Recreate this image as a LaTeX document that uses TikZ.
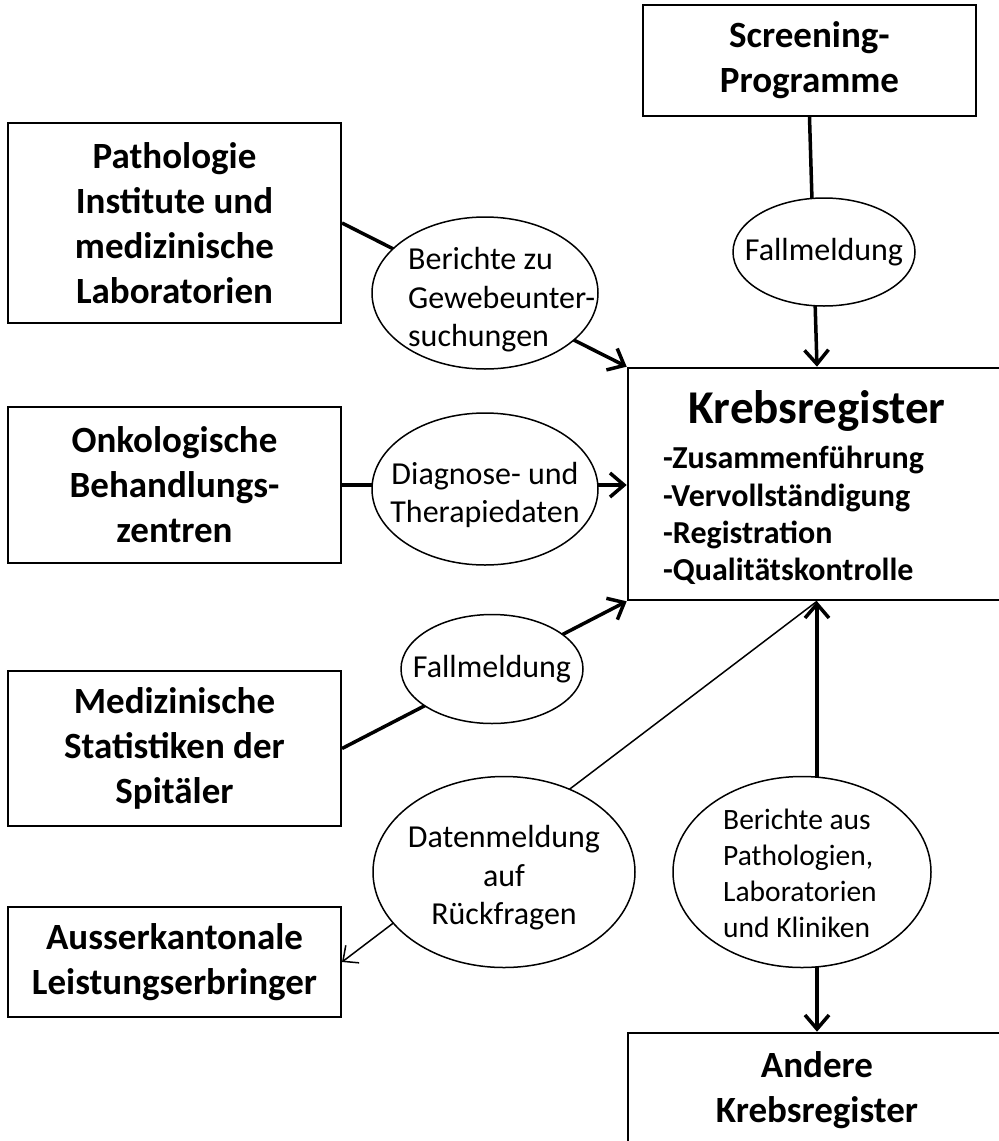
\documentclass[tikz,border=0pt]{standalone}
\usepackage{fontspec}
\setmainfont{Carlito}
\usetikzlibrary{arrows.meta,shapes.geometric}
\newcommand\boxfont{\bfseries\fontsize{37}{45}\selectfont}
\newcommand\titlefont{\bfseries\fontsize{47}{54}\selectfont}
\newcommand\itemfont{\bfseries\fontsize{32}{38}\selectfont}
\newcommand\ellfont{\fontsize{32}{38.5}\selectfont}
\newcommand\ellsmallfont{\fontsize{29.5}{36}\selectfont}
\begin{document}
\begin{tikzpicture}[x=1pt,y=-1pt,
  box/.style={draw, line width=2pt, inner sep=0pt, font=\boxfont, align=center},
  bigbox/.style={box, line width=2.6pt},
  ell/.style={draw, ellipse, fill=white, line width=1.5pt, inner sep=0pt},
  elltext/.style={inner sep=0pt, font=\ellfont, align=center},
  elltextleft/.style={inner sep=0pt, font=\ellfont, align=left, anchor=west},
  listitem/.style={inner sep=0pt, font=\itemfont, anchor=base west},
  flow/.style={line width=3.5pt, -{Straight Barb[length=14pt,width=24pt]}},
  biflow/.style={line width=3.5pt, {Straight Barb[length=14pt,width=24pt]}-{Straight Barb[length=14pt,width=24pt]}},
  thinflow/.style={line width=1.5pt, -{Straight Barb[length=12pt,width=22pt]}}]
\useasboundingbox (0,0) rectangle (999,1141);
\clip (0,0) rectangle (999,1141);
\fill[white] (0,0) rectangle (999,1141);

% sources and receivers
\node[box, minimum width=333pt, minimum height=111pt] (screen) at (809.5,60.5) {Screening-\\Programme};
\node[box, minimum width=333pt, minimum height=200pt] (patho) at (174.5,223) {Pathologie\\Institute und\\medizinische\\Laboratorien};
\node[box, minimum width=333pt, minimum height=156pt] (onko) at (174.5,485) {Onkologische\\Behandlungs-\\zentren};
\node[box, minimum width=333pt, minimum height=155pt] (medi) at (174.5,748.5) {Medizinische\\Statistiken der\\Spitäler};
\node[box, minimum width=333pt, minimum height=110pt] (ausser) at (174.5,962) {Ausserkantonale\\Leistungserbringer};

% the registry
\node[bigbox, minimum width=378pt, minimum height=232pt] (krebs) at (817,484) {};
\node[inner sep=0pt, font=\titlefont, anchor=base] (krebstitle) at (817,423) {Krebsregister};
\node[listitem] (k1) at (663,468) {-Zusammenführung};
\node[listitem] (k2) at (663,506) {-Vervollständigung};
\node[listitem] (k3) at (663,543) {-Registration};
\node[listitem] (k4) at (663,580) {-Qualitätskontrolle};

\node[bigbox, minimum width=378pt, minimum height=115pt] (andere) at (817,1090.5) {Andere\\Krebsregister};

% data flows
\draw[flow] (screen.south) -- (krebs.north);
\draw[flow] (patho.east) -- (krebs.north west);
\draw[flow] (onko.east) -- (onko.east -| krebs.west);
\draw[flow] (medi.east) -- (krebs.south west);
\draw[thinflow] (krebs.south) -- (ausser.east);
\draw[biflow] (krebs.south) -- (andere.north);

% flow labels: white ellipses over the connectors, text on top
\node[ell, minimum width=182pt, minimum height=108pt] (fall1) at (824,252) {};
\node[elltext] (fall1t) at (fall1.center) {Fallmeldung};

\node[ell, minimum width=226pt, minimum height=152pt] (ber1) at (485,293) {};
\node[elltextleft] (ber1t) at (408,300) {Berichte zu\\Gewebeunter-\\suchungen};

\node[ell, minimum width=226pt, minimum height=152pt] (diag) at (485,489) {};
\node[elltext, yshift=-6pt] (diagt) at (diag.center) {Diagnose- und\\Therapiedaten};

\node[ell, minimum width=182pt, minimum height=109pt] (fall2) at (492,669) {};
\node[elltext] (fall2t) at (fall2.center) {Fallmeldung};

\node[ell, minimum width=262pt, minimum height=191pt] (daten) at (504,872) {};
\node[elltext, yshift=-6pt] (datent) at (daten.center) {Datenmeldung\\auf\\Rückfragen};

\node[ell, minimum width=258pt, minimum height=191pt] (ber2) at (802,872) {};
\node[elltextleft, font=\ellsmallfont] (ber2t) at (723,873) {Berichte aus\\Pathologien,\\Laboratorien\\und Kliniken};
\end{tikzpicture}
\end{document}
